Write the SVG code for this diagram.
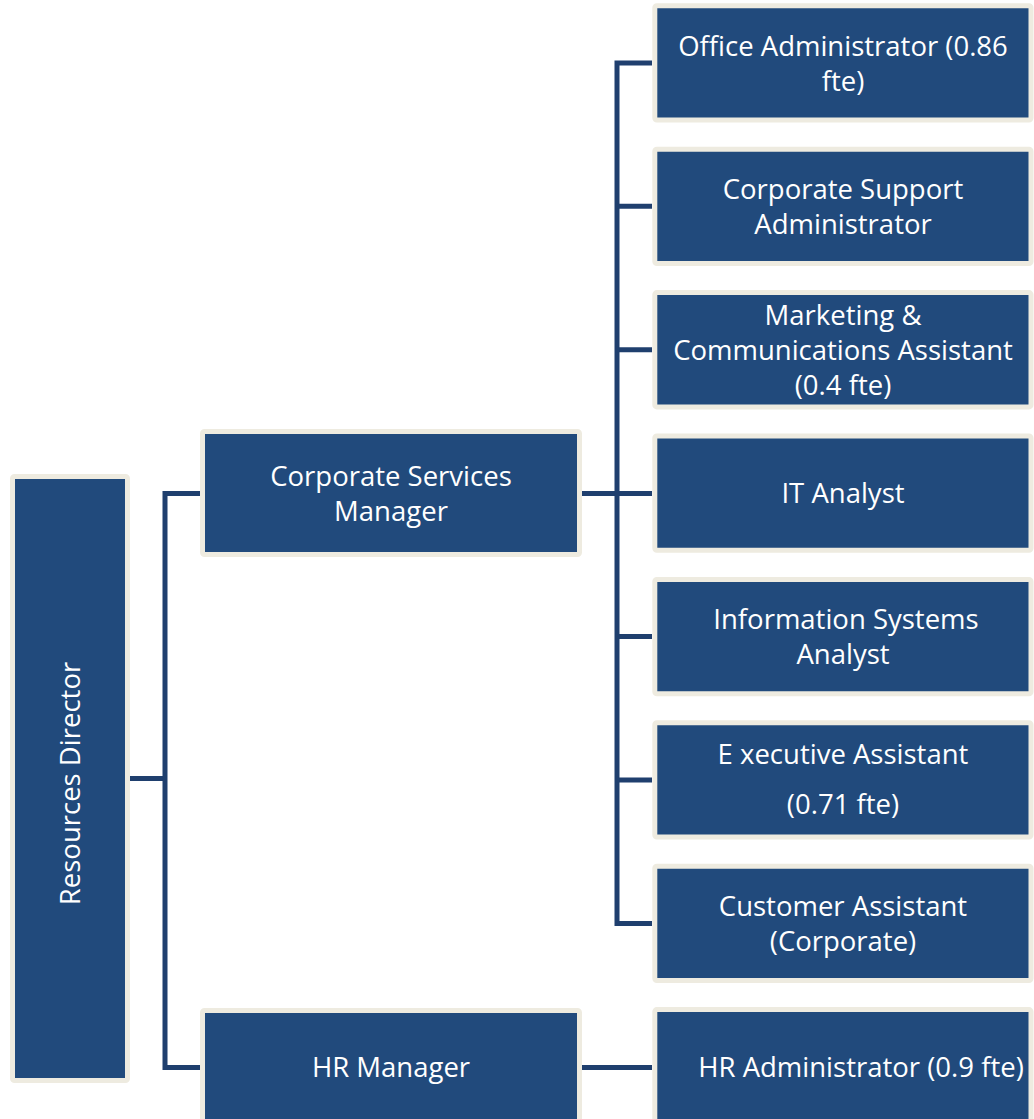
<svg xmlns="http://www.w3.org/2000/svg" width="1034" height="1119" viewBox="0 0 1034 1119">
  <style>
    .box { fill: #214a7c; stroke: #eeebe0; stroke-width: 5; }
    .lbl { fill: #ffffff; font-family: "Open Sans", "Noto Sans", "Liberation Sans", sans-serif; font-size: 27.5px; text-anchor: middle; }
    .conn { fill: none; stroke: #1f3f6e; stroke-width: 5; stroke-linejoin: miter; stroke-linecap: butt; }
  </style>
  <rect width="1034" height="1119" fill="#ffffff"/>
  <g id="connectors">
    <path class="conn" d="M130,778.5 H165"/>
    <path class="conn" d="M200,493.5 H165 V1067.5 H200"/>
    <path class="conn" d="M582,493.5 H652"/>
    <path class="conn" d="M652,63 H617 V923.4 H652"/>
    <path class="conn" d="M617,206.3 H652"/>
    <path class="conn" d="M617,349.7 H652"/>
    <path class="conn" d="M617,636.5 H652"/>
    <path class="conn" d="M617,780 H652"/>
    <path class="conn" d="M582,1067.5 H652"/>
  </g>
  <g id="resources-director">
    <rect class="box" x="12.5" y="476.5" width="115" height="604" rx="2"/>
    <text class="lbl" transform="translate(80,783.5) rotate(-90)">Resources Director</text>
  </g>
  <g id="corporate-services-manager">
    <rect class="box" x="202.5" y="431.5" width="377" height="123" rx="2"/>
    <text class="lbl" x="391" y="485.5">Corporate Services</text>
    <text class="lbl" x="391" y="520.5">Manager</text>
  </g>
  <g id="hr-manager">
    <rect class="box" x="202.5" y="1010.5" width="377" height="123" rx="2"/>
    <text class="lbl" x="391" y="1077">HR Manager</text>
  </g>
  <g id="office-administrator">
    <rect class="box" x="654.8" y="5.8" width="376.2" height="114.3" rx="2"/>
    <text class="lbl" x="843" y="55.5">Office Administrator (0.86</text>
    <text class="lbl" x="843" y="90.5">fte)</text>
  </g>
  <g id="corporate-support-administrator">
    <rect class="box" x="654.8" y="149.2" width="376.2" height="114.3" rx="2"/>
    <text class="lbl" x="843" y="198.8">Corporate Support</text>
    <text class="lbl" x="843" y="233.8">Administrator</text>
  </g>
  <g id="marketing-communications-assistant">
    <rect class="box" x="654.8" y="292.6" width="376.2" height="114.3" rx="2"/>
    <text class="lbl" x="843" y="324.7">Marketing &amp;</text>
    <text class="lbl" x="843" y="359.7">Communications Assistant</text>
    <text class="lbl" x="843" y="394.7">(0.4 fte)</text>
  </g>
  <g id="it-analyst">
    <rect class="box" x="654.8" y="436" width="376.2" height="114.3" rx="2"/>
    <text class="lbl" x="843" y="503">IT Analyst</text>
  </g>
  <g id="information-systems-analyst">
    <rect class="box" x="654.8" y="579.4" width="376.2" height="114.3" rx="2"/>
    <text class="lbl" x="846" y="629">Information Systems</text>
    <text class="lbl" x="843" y="664">Analyst</text>
  </g>
  <g id="executive-assistant">
    <rect class="box" x="654.8" y="722.8" width="376.2" height="114.3" rx="2"/>
    <text class="lbl" x="843" y="764">E xecutive Assistant</text>
    <text class="lbl" x="843" y="814">(0.71 fte)</text>
  </g>
  <g id="customer-assistant">
    <rect class="box" x="654.8" y="866.2" width="376.2" height="114.3" rx="2"/>
    <text class="lbl" x="843" y="915.9">Customer Assistant</text>
    <text class="lbl" x="843" y="950.9">(Corporate)</text>
  </g>
  <g id="hr-administrator">
    <rect class="box" x="654.8" y="1009.6" width="376.2" height="114.3" rx="2"/>
    <text class="lbl" x="861" y="1077">HR Administrator (0.9 fte)</text>
  </g>
</svg>
